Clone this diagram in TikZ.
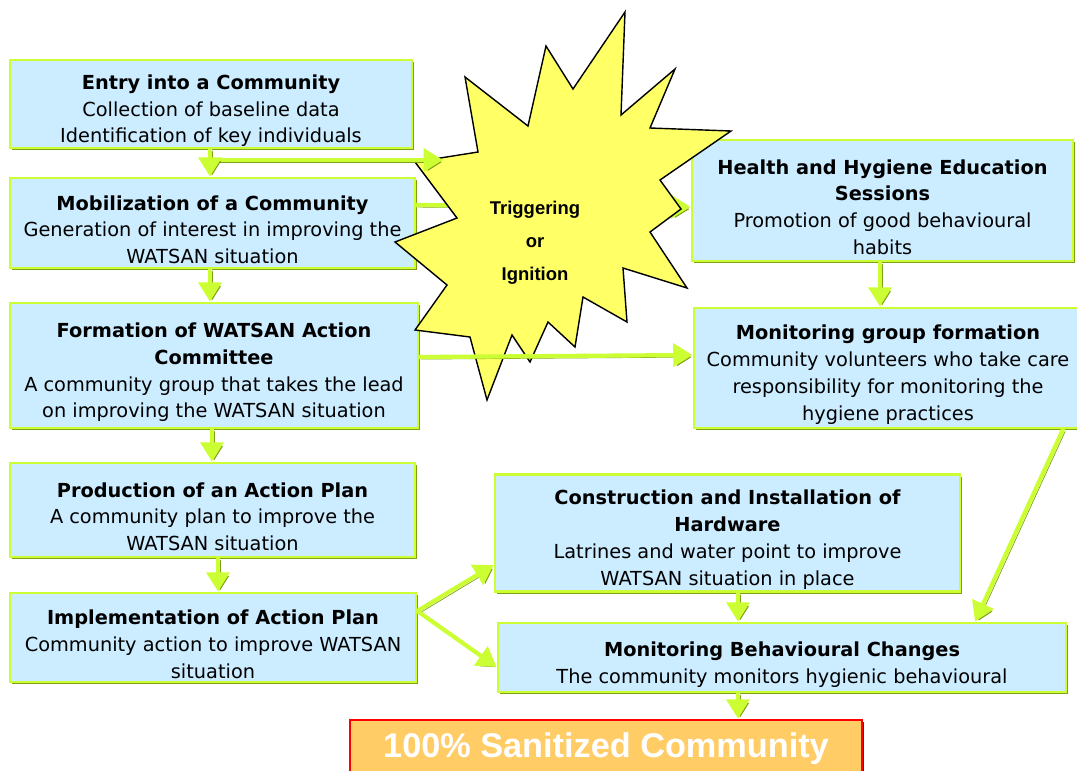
\documentclass[tikz,border=0pt]{standalone}
\usepackage{fontspec}
\setmainfont{DejaVu Sans}
\newfontfamily\arialfont{Liberation Sans}
\usetikzlibrary{arrows.meta,shadows}
\definecolor{boxblue}{HTML}{CCECFF}
\definecolor{limeg}{HTML}{CCFF33}
\definecolor{oliveg}{HTML}{809F14}
\definecolor{burst}{HTML}{FFFF66}
\definecolor{goalfill}{HTML}{FFCC66}
\definecolor{goalshadow}{HTML}{990000}
\newcommand\stagehead[1]{\rule{0pt}{16pt}\textbf{#1}}
\begin{document}
\begin{tikzpicture}[x=0.2mm,y=-0.2mm,line cap=round,
  stage/.style 2 args={draw=limeg,line width=1.6pt,fill=boxblue,
    drop shadow={fill=oliveg,opacity=1,shadow xshift=1.4pt,shadow yshift=-1.4pt},
    minimum width=#1*0.2mm,minimum height=#2*0.2mm,inner sep=0pt,align=center,
    font=\fontsize{11}{15.3}\selectfont},
  flow/.style={draw=limeg,line width=2.4pt,-{Triangle[length=11pt,width=13pt]},
    preaction={draw=oliveg,-{Triangle[length=11pt,width=13pt]},
      transform canvas={shift={(1.2pt,-1.2pt)}}}},
  starburst/.style={draw=black,line width=0.8pt,fill=burst,line join=miter}]
\useasboundingbox (0,0) rectangle (1077,770);
%\draw[step=50,very thin,color=gray] (0,0) grid (1077,770);
% left column
\node[stage={402}{88}] (entry) at (211,104) {\stagehead{Entry into a Community}\\Collection of baseline data\\Identification of key individuals};
\node[stage={405}{90}] (mobil) at (212.5,223) {\stagehead{Mobilization of a Community}\\Generation of interest in improving the\\WATSAN situation};
\node[stage={408}{125}] (form) at (214,365.5) {\stagehead{Formation of WATSAN Action}\\\textbf{Committee}\\A community group that takes the lead\\on improving the WATSAN situation};
\node[stage={405}{94}] (prod) at (212.5,510) {\stagehead{Production of an Action Plan}\\A community plan to improve the\\WATSAN situation};
\node[stage={406}{89}] (impl) at (213,637.5) {\stagehead{Implementation of Action Plan}\\Community action to improve WATSAN\\situation};
% right side
\node[stage={381}{121}] (health) at (882.5,200.5) {\stagehead{Health and Hygiene Education}\\\textbf{Sessions}\\Promotion of good behavioural\\habits};
\node[stage={388}{120}] (mgroup) at (888,368) {\stagehead{Monitoring group formation}\\Community volunteers who take care\\responsibility for monitoring the\\hygiene practices};
\node[stage={465}{117}] (constr) at (727.5,533) {\stagehead{Construction and Installation of}\\\textbf{Hardware}\\Latrines and water point to improve\\WATSAN situation in place};
\node[stage={568}{69}] (mbc) at (782,657.5) {\stagehead{Monitoring Behavioural Changes}\\The community monitors hygienic behavioural};
\node[draw=red,line width=1.6pt,fill=goalfill,
  drop shadow={fill=goalshadow,opacity=1,shadow xshift=1.4pt,shadow yshift=-1.4pt},
  minimum width=512*0.2mm,minimum height=58*0.2mm,inner sep=0pt,
  text=white,font=\arialfont\bfseries\fontsize{19.5}{22}\selectfont] (goal) at (606,749) {100\% Sanitized Community};
% behind the star
\draw[flow] (mobil.east |- 0,205) -- (health.west |- 0,207);
% the star
\draw[starburst] plot coordinates {(465,77) (528,126) (546,46) (573,89) (625,12) (621,115) (675,69) (650,128) (731,131) (660,180) (681,209) (650,232) (687,288) (623,268) (627,322) (583,297) (575,347) (548,322) (530,362) (512,335) (487,400) (470,337) (415,330) (447,285) (395,242) (457,218) (415,162) (478,152)} -- cycle;
\node[align=center,font=\arialfont\bfseries\fontsize{10.5}{18.7}\selectfont] (trig) at (535,243) {Triggering\\or\\Ignition};
\coordinate (split) at (212,160);
\coordinate (trigin) at (443,160);
% arrows
\draw[flow] (split) -- (trigin);
\draw[flow] (entry.south -| 210,0) -- (mobil.north -| 210,0);
\draw[flow] (mobil.south -| 210,0) -- (form.north -| 210,0);
\draw[flow] (form.south -| 212,0) -- (prod.north -| 212,0);
\draw[flow] (prod.south -| 218,0) -- (impl.north -| 218,0);
\draw[flow] (form.east |- 0,357) -- (mgroup.west |- 0,355);
\draw[flow] (health.south -| 880,0) -- (mgroup.north -| 880,0);
\draw[flow] (mgroup.south -| 1063,0) -- (mbc.north -| 975,0);
\draw[flow] (impl.east |- 0,611) -- (constr.west |- 0,565);
\draw[flow] (impl.east |- 0,611) -- (mbc.west |- 0,667);
\draw[flow] (constr.south -| 738,0) -- (mbc.north -| 738,0);
\draw[flow] (mbc.south -| 738,0) -- (goal.north -| 738,0);
\end{tikzpicture}
\end{document}
